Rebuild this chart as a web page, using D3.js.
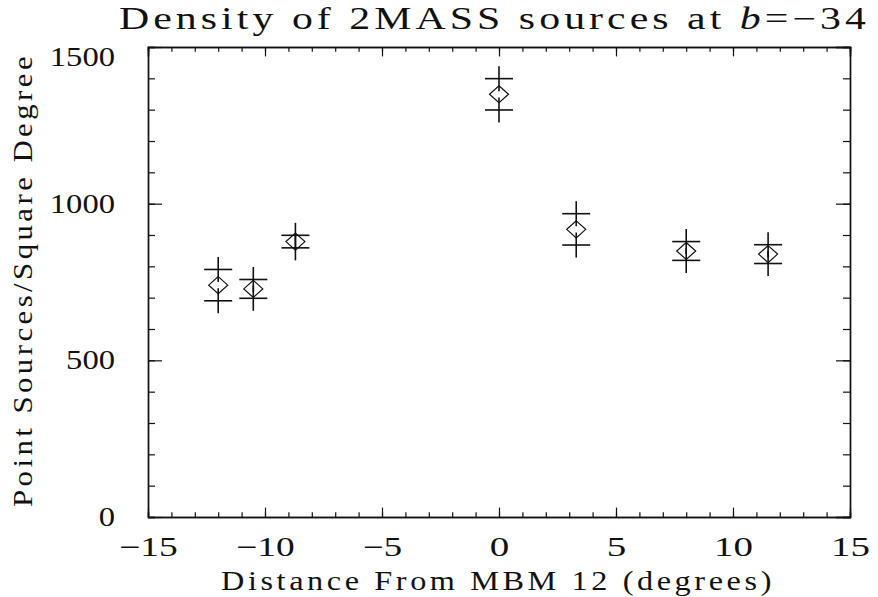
<!DOCTYPE html>
<html>
<head>
<meta charset="utf-8">
<script src="https://cdn.jsdelivr.net/npm/d3@7/dist/d3.min.js"></script>
<style>
  html, body { margin: 0; padding: 0; background: #fff; }
  svg { display: block; }
</style>
</head>
<body>
<svg id="chart" width="878" height="597"></svg>
<script>
// ---- data ----
const distances = [-12, -10.5, -8.7, 0, 3.3, 8, 11.5];
const densities = [740, 728, 879, 1349, 918, 849, 839];
const errors    = [50, 30, 20, 50, 50, 30, 30];
const xMajorTicks = [-15, -10, -5, 0, 5, 10, 15];
const yMajorTicks = [0, 500, 1000, 1500];
const titleText = "Density of 2MASS sources at ";
const titleItalic = "b";
const titleTail = "=\u221234";
const xLabel = "Distance From MBM 12 (degrees)";
const yLabel = "Point Sources/Square Degree";

// ---- layout ----
const FONT = "'Liberation Serif', 'Times New Roman', serif";
const W = 878, H = 597;
const margin = { left: 148, right: 28, top: 47, bottom: 80 };
const pw = W - margin.left - margin.right;
const ph = H - margin.top - margin.bottom;

const svg = d3.select("#chart");
const g = svg.append("g").attr("transform", `translate(${margin.left},${margin.top})`);

const x = d3.scaleLinear().domain([-15, 15]).range([0, pw]);
const y = d3.scaleLinear().domain([0, 1500]).range([ph, 0]);

const xMinor = d3.range(-15, 15.001, 1);
const yMinor = d3.range(0, 1500.001, 100);

const majX = ph * 0.02, majY = pw * 0.02;
const fmt = v => (v < 0 ? "\u2212" + Math.abs(v) : String(v));

function styleAxis(sel) {
  sel.attr("font-family", FONT).attr("font-size", null);
  sel.selectAll("path.domain").attr("stroke", "#111").attr("stroke-width", 1.4);
  sel.selectAll(".tick line").attr("stroke", "#111").attr("stroke-width", 1.2);
}

const bMinor = g.append("g").attr("transform", `translate(0,${ph})`)
  .call(d3.axisBottom(x).tickValues(xMinor).tickSize(-majX / 2).tickFormat(""));
const bMajor = g.append("g").attr("transform", `translate(0,${ph})`)
  .call(d3.axisBottom(x).tickValues(xMajorTicks).tickSizeInner(-majX).tickSizeOuter(0).tickPadding(32).tickFormat(fmt));
const tMinor = g.append("g")
  .call(d3.axisTop(x).tickValues(xMinor).tickSize(-majX / 2).tickFormat(""));
const tMajor = g.append("g")
  .call(d3.axisTop(x).tickValues(xMajorTicks).tickSize(-majX).tickFormat(""));
const lMinor = g.append("g")
  .call(d3.axisLeft(y).tickValues(yMinor).tickSize(-majY / 2).tickFormat(""));
const lMajor = g.append("g")
  .call(d3.axisLeft(y).tickValues(yMajorTicks).tickSizeInner(-majY).tickSizeOuter(0).tickPadding(33).tickFormat(d3.format("d")));
const rMinor = g.append("g").attr("transform", `translate(${pw},0)`)
  .call(d3.axisRight(y).tickValues(yMinor).tickSize(-majY / 2).tickFormat(""));
const rMajor = g.append("g").attr("transform", `translate(${pw},0)`)
  .call(d3.axisRight(y).tickValues(yMajorTicks).tickSize(-majY).tickFormat(""));

[bMinor, bMajor, tMinor, tMajor, lMinor, lMajor, rMinor, rMajor].forEach(styleAxis);

bMajor.selectAll(".tick text")
  .attr("font-family", FONT)
  .attr("font-size", 27).attr("fill", "#111")
  .attr("dy", "0.25em")
  .attr("textLength", d => String(fmt(d)).length * 19.5)
  .attr("lengthAdjust", "spacingAndGlyphs");
lMajor.selectAll(".tick text")
  .attr("font-family", FONT)
  .attr("font-size", 27).attr("fill", "#111")
  .attr("dy", d => d === 1500 ? "0.68em" : "0.32em")
  .attr("textLength", d => String(d).length * 16.3)
  .attr("lengthAdjust", "spacingAndGlyphs");

const pts = distances.map((d, i) => ({ x: d, v: densities[i], e: errors[i] }));
const plusHW = 14, plusHH = 12.5, diaHW = 9.5, diaHH = 8.5;
const marks = g.append("g").attr("stroke", "#111").attr("fill", "none");

pts.forEach(p => {
  const cx = x(p.x);
  [p.v + p.e, p.v - p.e].forEach(val => {
    const cy = y(val);
    marks.append("line").attr("x1", cx - plusHW).attr("x2", cx + plusHW)
      .attr("y1", cy).attr("y2", cy).attr("stroke-width", 1.6);
    marks.append("line").attr("x1", cx).attr("x2", cx)
      .attr("y1", cy - plusHH).attr("y2", cy + plusHH).attr("stroke-width", 1.6);
  });
  const cy = y(p.v);
  marks.append("path")
    .attr("d", `M${cx},${cy - diaHH}L${cx + diaHW},${cy}L${cx},${cy + diaHH}L${cx - diaHW},${cy}Z`)
    .attr("stroke-width", 1.2);
});

const title = svg.append("text")
  .attr("font-family", FONT).attr("fill", "#111")
  .attr("x", 119).attr("y", 29)
  .attr("font-size", 31)
  .attr("letter-spacing", 3)
  .attr("textLength", 751).attr("lengthAdjust", "spacingAndGlyphs");
title.append("tspan").text(titleText);
title.append("tspan").attr("font-style", "italic").text(titleItalic);
title.append("tspan").text(titleTail);

svg.append("text")
  .attr("font-family", FONT).attr("fill", "#111")
  .attr("x", 221).attr("y", 590)
  .attr("font-size", 27)
  .attr("letter-spacing", 3)
  .attr("textLength", 554).attr("lengthAdjust", "spacingAndGlyphs")
  .text(xLabel);

svg.append("text")
  .attr("font-family", FONT).attr("fill", "#111")
  .attr("transform", "translate(32,280) rotate(-90)")
  .attr("text-anchor", "middle")
  .attr("font-size", 27)
  .attr("letter-spacing", 3)
  .attr("textLength", 454).attr("lengthAdjust", "spacingAndGlyphs")
  .text(yLabel);
</script>
</body>
</html>
